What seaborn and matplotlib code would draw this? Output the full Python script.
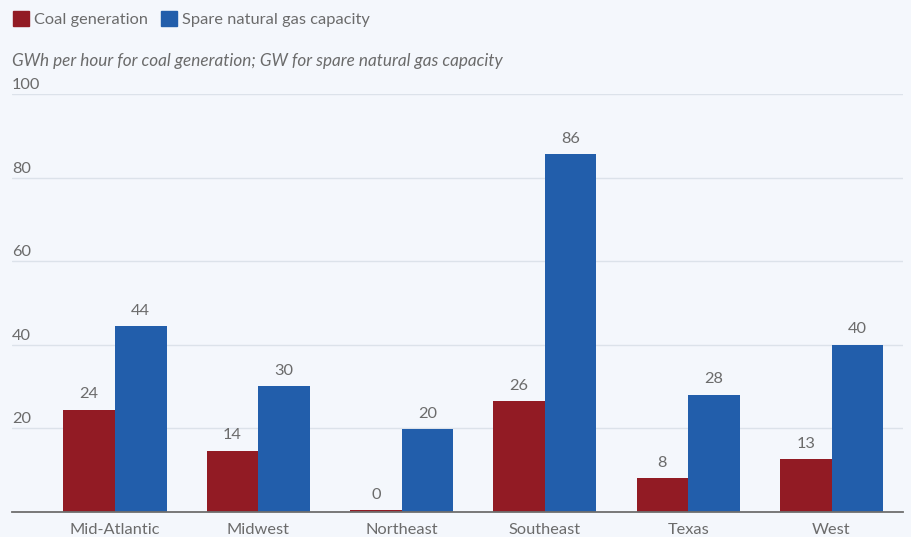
import matplotlib
matplotlib.use("Agg")
import matplotlib.pyplot as plt
import matplotlib.transforms as mtransforms
from matplotlib.patches import Patch
import seaborn as sns
import pandas as pd

regions = ["Mid-Atlantic", "Midwest", "Northeast", "Southeast", "Texas", "West"]
coal = [24.4, 14.6, 0.3, 26.5, 8.0, 12.6]
gas = [44.4, 30.0, 19.8, 85.6, 28.0, 40.0]
coal_labels = ["24", "14", "0", "26", "8", "13"]
gas_labels = ["44", "30", "20", "86", "28", "40"]
series = ["Coal generation", "Spare natural gas capacity"]
yticks = [20, 40, 60, 80, 100]

RED = "#921b24"
BLUE = "#225eab"
BG = "#f4f7fc"
TXT = "#6b6b6b"

df = pd.DataFrame({
    "region": regions * 2,
    "series": [series[0]] * len(regions) + [series[1]] * len(regions),
    "value": coal + gas,
})

sns.set_style("white")
plt.rcParams["font.family"] = ["Lato", "DejaVu Sans"]

fig = plt.figure(figsize=(9.12, 5.37), dpi=100, facecolor=BG)
ax = fig.add_axes([12 / 912, (537 - 511.7) / 537, (903 - 12) / 912, (511.7 - 94) / 537])
ax.set_facecolor(BG)

sns.barplot(data=df, x="region", y="value", hue="series", order=regions,
            hue_order=series, palette=[RED, BLUE], width=0.72, gap=0,
            saturation=1, linewidth=0, edgecolor="none", ax=ax, legend=False)

step = 143.3
ax.set_xlim((12 - 115) / step, (903 - 115) / step)
ax.set_ylim(0, 100)

# value labels
for cont, labs in zip(ax.containers, [coal_labels, gas_labels]):
    ax.bar_label(cont, labels=labs, padding=6, color=TXT, fontsize=11.8)

# gridlines and y labels above them
for t in yticks:
    ax.axhline(t, color="#dce2ea", lw=1, zorder=0)
trans = mtransforms.blended_transform_factory(ax.transAxes, ax.transData)
for t in yticks:
    ax.text(0, t + 0.4, str(t), transform=trans, ha="left", va="bottom",
            color=TXT, fontsize=11.8)

ax.set_yticks([])
ax.set_xlabel("")
ax.set_ylabel("")
ax.tick_params(axis="x", length=0, pad=8, labelsize=11.8, labelcolor=TXT)
for s in ["top", "right", "left"]:
    ax.spines[s].set_visible(False)
ax.spines["bottom"].set_color("#6e6e6e")
ax.spines["bottom"].set_linewidth(1.3)

fig.text(12 / 912, 1 - 61 / 537, "GWh per hour for coal generation; GW for spare natural gas capacity",
         ha="left", va="center", style="italic", color=TXT, fontsize=12.3)

handles = [Patch(color=RED), Patch(color=BLUE)]
fig.legend(handles, series, loc="center left", bbox_to_anchor=(6 / 912, 1 - 19 / 537),
           ncol=2, frameon=False, handlelength=1.0, handleheight=1.0,
           handletextpad=0.3, columnspacing=0.8, fontsize=11.8, labelcolor=TXT,
           borderaxespad=0)

fig.savefig("out.png", dpi=100, facecolor=BG)
